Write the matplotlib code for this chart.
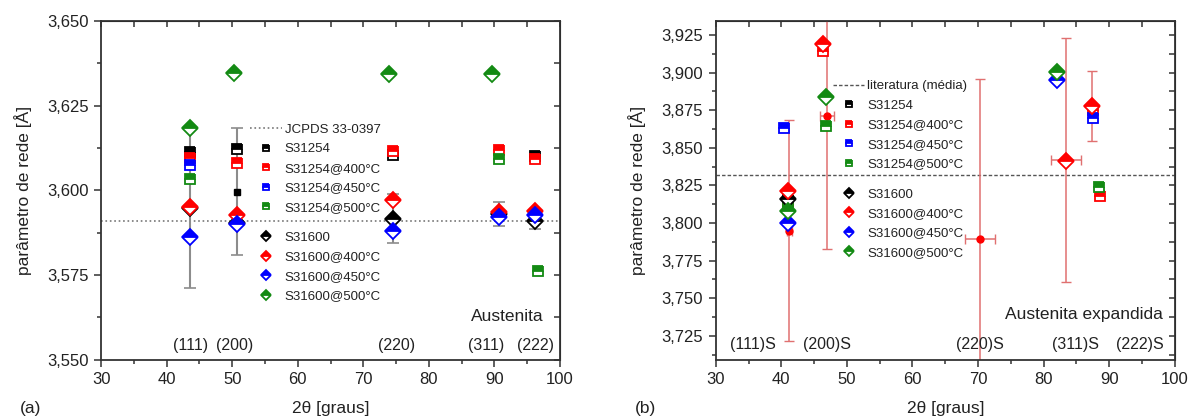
import numpy as np
import matplotlib
matplotlib.use('Agg')
import matplotlib.pyplot as plt
from matplotlib.ticker import MultipleLocator, FuncFormatter

plt.rcParams['font.family'] = ['Liberation Sans', 'DejaVu Sans']

# (a) Austenita
a_s31254_x = [43.5, 50.7, 74.6, 96.2]
a_s31254_y = [3.6113, 3.6123, 3.6105, 3.6102]
a_s31254_400_x = [43.5, 50.7, 74.6, 90.7, 96.2]
a_s31254_400_y = [3.6095, 3.6082, 3.6117, 3.6118, 3.6092]
a_s31254_450_x = [43.5]
a_s31254_450_y = [3.6075]
a_s31254_500_x = [43.5, 90.7, 96.6]
a_s31254_500_y = [3.6032, 3.6092, 3.5763]
a_s31600_x = [43.5, 50.7, 74.6, 90.7, 96.2]
a_s31600_y = [3.5948, 3.5905, 3.5916, 3.5930, 3.5910]
a_s31600_err = [0.0237, 0.0, 0.0072, 0.0035, 0.0025]
a_s31600_400_x = [43.5, 50.7, 74.6, 90.7, 96.2]
a_s31600_400_y = [3.5951, 3.5928, 3.5970, 3.5936, 3.5940]
a_s31600_450_x = [43.5, 50.7, 74.6, 90.7, 96.2]
a_s31600_450_y = [3.5861, 3.5902, 3.5881, 3.5920, 3.5926]
a_s31600_500_x = [43.5, 50.3, 73.9, 89.6]
a_s31600_500_y = [3.6184, 3.6346, 3.6342, 3.6342]
a_mean_x = [50.7]
a_mean_y = [3.5996]
a_mean_err = [0.0187]
a_jcpds = 3.591
a_peaks = ['(111)', '(200)', '(220)', '(311)', '(222)']
a_peak_x = [43.7, 50.3, 75.1, 88.8, 96.2]

# (b) Austenita expandida
b_s31254_x = [41.0]
b_s31254_y = [3.8155]
b_s31254_400_x = [41.0, 46.3, 87.5, 88.6]
b_s31254_400_y = [3.8120, 3.9145, 3.8750, 3.8178]
b_s31254_450_x = [40.4, 87.5]
b_s31254_450_y = [3.8635, 3.8700]
b_s31254_500_x = [41.0, 46.8, 88.5]
b_s31254_500_y = [3.8105, 3.8648, 3.8240]
b_s31600_x = [41.0]
b_s31600_y = [3.8160]
b_s31600_400_x = [41.0, 46.3, 83.4, 87.4]
b_s31600_400_y = [3.8212, 3.9188, 3.8412, 3.8778]
b_s31600_400_err = [0.0, 0.0, 0.0, 0.0235]
b_s31600_450_x = [41.0, 82.0]
b_s31600_450_y = [3.7998, 3.8952]
b_s31600_500_x = [41.0, 46.8, 82.0]
b_s31600_500_y = [3.8078, 3.8835, 3.9005]
b_lit_x = [41.2, 47.0, 70.3, 83.4]
b_lit_y = [3.7950, 3.8713, 3.7895, 3.8418]
b_lit_xerr = [0.4, 1.1, 2.3, 2.3]
b_lit_yerr = [0.0733, 0.0889, 0.1065, 0.0811]
b_lit_mean = 3.8322
b_peaks = ['(111)S', '(200)S', '(220)S', '(311)S', '(222)S']
b_peak_x = [35.6, 47.0, 70.3, 84.8, 94.7]

labels = ['S31254', 'S31254@400°C', 'S31254@450°C', 'S31254@500°C',
          'S31600', 'S31600@400°C', 'S31600@450°C', 'S31600@500°C']
cols = ['black', '#ff0000', '#0000ff', '#138a13']
txt = '#222222'


def comma(v, pos):
    return ('%.3f' % v).replace('.', ',')


def frame(ax, ylim):
    ax.set_xlim(30, 100)
    ax.set_ylim(*ylim)
    ax.xaxis.set_major_locator(MultipleLocator(10))
    ax.xaxis.set_minor_locator(MultipleLocator(5))
    ax.yaxis.set_major_locator(MultipleLocator(0.025))
    ax.yaxis.set_minor_locator(MultipleLocator(0.0125))
    ax.yaxis.set_major_formatter(FuncFormatter(comma))
    ax.tick_params(which='major', direction='out', length=5, width=1.1, labelsize=12,
                   colors='#333333', labelcolor=txt, pad=4)
    ax.tick_params(which='minor', direction='out', length=3, width=1.1, colors='#333333')
    for s in ax.spines.values():
        s.set_linewidth(1.3)
        s.set_color('#333333')
    top = ax.secondary_xaxis('top')
    top.xaxis.set_major_locator(MultipleLocator(5))
    top.tick_params(direction='in', length=4, width=1.1, labeltop=False, colors='#333333')
    right = ax.secondary_yaxis('right')
    right.yaxis.set_major_locator(MultipleLocator(0.0125))
    right.tick_params(direction='in', length=4, width=1.1, labelright=False, colors='#333333')
    ax.set_xlabel('2θ [graus]', fontsize=12.5, color=txt, labelpad=10)
    ax.set_ylabel('parâmetro de rede [Å]', fontsize=12.5, color=txt, labelpad=11)


def half(ax, x, y, marker, c, ms, z=3):
    return ax.plot(x, y, ls='none', marker=marker, ms=ms, color=c, mec=c, mfc=c,
                   fillstyle='top', markerfacecoloralt='white', mew=1.3, zorder=z)[0]


def legends(ax, first, hs, anchor1, anchor2):
    kw = dict(loc='upper left', frameon=False, fontsize=9.5, handlelength=2.4,
              handletextpad=0.2, borderpad=0, borderaxespad=0, labelspacing=0.55,
              markerscale=0.6, labelcolor=txt)
    leg1 = ax.legend([first[0]] + hs[:4], [first[1]] + labels[:4], bbox_to_anchor=anchor1, **kw)
    ax.add_artist(leg1)
    ax.legend(hs[4:], labels[4:], bbox_to_anchor=anchor2, **kw)


fig = plt.figure(figsize=(11.89, 4.16), dpi=100)
axa = fig.add_axes([0.085, 0.135, 0.386, 0.815])
axb = fig.add_axes([0.602, 0.135, 0.386, 0.815])

# ---- (a)
frame(axa, (3.55, 3.65))
jl = axa.axhline(a_jcpds, color='#777777', ls=':', lw=1.2, zorder=1)
axa.errorbar(a_s31600_x, a_s31600_y, yerr=a_s31600_err, fmt='none', ecolor='#8c8c8c',
             elinewidth=1.5, capsize=4, capthick=1.2, zorder=2)
axa.errorbar(a_mean_x, a_mean_y, yerr=a_mean_err, fmt='s', ms=5, color='black',
             ecolor='#8c8c8c', elinewidth=1.5, capsize=4, capthick=1.2, zorder=2)
ha = [half(axa, a_s31254_x, a_s31254_y, 's', cols[0], 7),
      half(axa, a_s31254_400_x, a_s31254_400_y, 's', cols[1], 7),
      half(axa, a_s31254_450_x, a_s31254_450_y, 's', cols[2], 7),
      half(axa, a_s31254_500_x, a_s31254_500_y, 's', cols[3], 7),
      half(axa, a_s31600_x, a_s31600_y, 'D', cols[0], 8, 4),
      half(axa, a_s31600_400_x, a_s31600_400_y, 'D', cols[1], 8, 4),
      half(axa, a_s31600_450_x, a_s31600_450_y, 'D', cols[2], 8, 4),
      half(axa, a_s31600_500_x, a_s31600_500_y, 'D', cols[3], 8, 4)]
legends(axa, (jl, 'JCPDS 33-0397'), ha, (0.325, 0.697), (0.325, 0.378))
for lab, px in zip(a_peaks, a_peak_x):
    axa.text(px, 3.5541, lab, ha='center', va='center', fontsize=11.5, color=txt)
axa.text(97.5, 3.5627, 'Austenita', ha='right', va='center', fontsize=12.5, color=txt)

# ---- (b)
frame(axb, (3.709, 3.9345))
ll = axb.axhline(b_lit_mean, color='#555555', ls=(0, (2.5, 1.5)), lw=1.0, zorder=1)
ec = '#e07070'
axb.errorbar(b_lit_x, b_lit_y, xerr=b_lit_xerr, yerr=b_lit_yerr, fmt='o', ms=5, color='#ff0000',
             ecolor=ec, elinewidth=1.1, capsize=3.5, capthick=1.0, zorder=2)
axb.errorbar(b_s31600_400_x, b_s31600_400_y, yerr=b_s31600_400_err, fmt='none', ecolor=ec,
             elinewidth=1.1, capsize=3.5, capthick=1.0, zorder=2)
hb = [half(axb, b_s31254_x, b_s31254_y, 's', cols[0], 7),
      half(axb, b_s31254_400_x, b_s31254_400_y, 's', cols[1], 7),
      half(axb, b_s31254_450_x, b_s31254_450_y, 's', cols[2], 7),
      half(axb, b_s31254_500_x, b_s31254_500_y, 's', cols[3], 7),
      half(axb, b_s31600_x, b_s31600_y, 'D', cols[0], 8, 4),
      half(axb, b_s31600_400_x, b_s31600_400_y, 'D', cols[1], 8, 4),
      half(axb, b_s31600_450_x, b_s31600_450_y, 'D', cols[2], 8, 4),
      half(axb, b_s31600_500_x, b_s31600_500_y, 'D', cols[3], 8, 4)]
legends(axb, (ll, 'literatura (média)'), hb, (0.255, 0.825), (0.255, 0.506))
for lab, px in zip(b_peaks, b_peak_x):
    axb.text(px, 3.7194, lab, ha='center', va='center', fontsize=11.5, color=txt)
axb.text(98.2, 3.7393, 'Austenita expandida', ha='right', va='center', fontsize=12.5, color=txt)

fig.text(0.017, 0.018, '(a)', fontsize=12.5, color=txt, va='center')
fig.text(0.534, 0.018, '(b)', fontsize=12.5, color=txt, va='center')

fig.savefig('out.png', dpi=100)
